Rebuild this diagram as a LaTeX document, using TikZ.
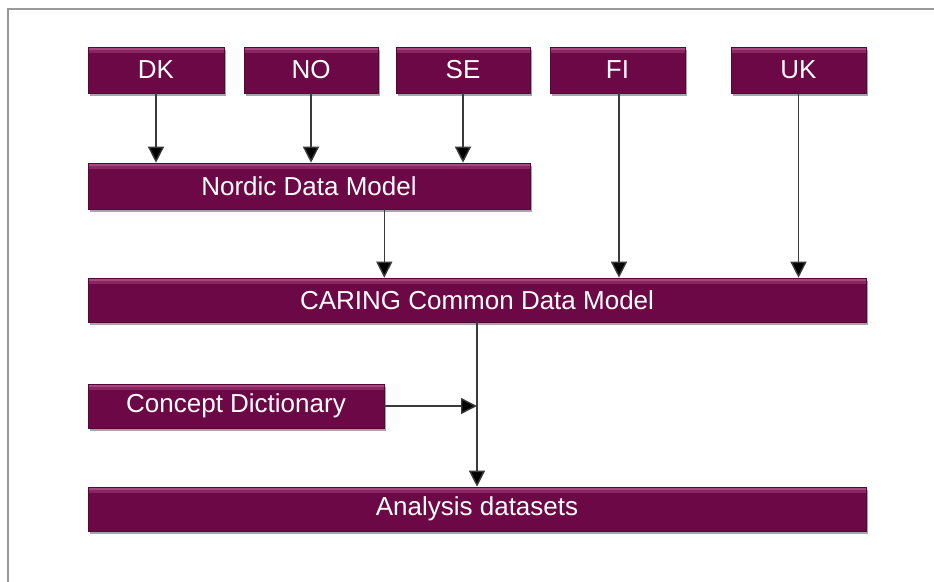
\documentclass[tikz,border=0pt]{standalone}
\usepackage{fontspec}
\setmainfont{Liberation Sans}
\usetikzlibrary{arrows.meta,shadows,calc}
\definecolor{boxfill}{HTML}{6C0846}
\definecolor{boxtop}{HTML}{A8467F}
\definecolor{framegray}{HTML}{999999}
\definecolor{linegray}{HTML}{3A3A3A}
\begin{document}
\begin{tikzpicture}[x=1pt,y=-1pt,
  box/.style={draw=boxfill!80!black, line width=0.6pt, fill=boxfill, text=white,
    minimum height=46pt, inner sep=0pt, font=\fontsize{26}{30}\selectfont,
    drop shadow={shadow xshift=2pt, shadow yshift=-2.5pt, fill=black, opacity=0.35},
    path picture={\fill[boxtop] (path picture bounding box.north west) rectangle ([yshift=-3pt]path picture bounding box.north east);
                  \fill[boxtop!50!boxfill] ([yshift=-3pt]path picture bounding box.north west) rectangle ([yshift=-6pt]path picture bounding box.north east);}},
  conn/.style={draw=linegray, line width=1.4pt, -{Triangle[length=16pt,width=16pt,fill=black]}}]
\useasboundingbox (0,0) rectangle (934,581);
\draw[framegray, line width=2.5pt] (8,590) -- (8,9) -- (945,9);

\node[box, minimum width=136pt] (dk) at (156,70) {DK};
\node[box, minimum width=134pt] (no) at (311,70) {NO};
\node[box, minimum width=134pt] (se) at (463,70) {SE};
\node[box, minimum width=135pt] (fi) at (617.5,70) {FI};
\node[box, minimum width=135pt] (uk) at (798.5,70) {UK};
\node[box, minimum width=442pt] (nordic) at (309,186) {Nordic Data Model};
\node[box, minimum width=778pt, minimum height=44pt] (caring) at (477,300) {CARING Common Data Model};
\node[box, minimum width=296pt, minimum height=44pt] (concept) at (236,406) {Concept Dictionary};
\node[box, minimum width=778pt, minimum height=44pt] (analysis) at (477,509) {Analysis datasets};

\draw[conn] (dk.south) -- (dk.south |- nordic.north);
\draw[conn] (no.south) -- (no.south |- nordic.north);
\draw[conn] (se.south) -- (se.south |- nordic.north);
\draw[conn] ([xshift=1.5pt]fi.south) -- ([xshift=1.5pt]fi.south |- caring.north);
\draw[conn] (uk.south) -- (uk.south |- caring.north);
\draw[conn] (nordic.south -| concept.east) -- (concept.east |- caring.north);
\draw[conn] (caring.south) -- (analysis.north);
\draw[conn] (concept.east) -- (concept.east -| caring.south);
\end{tikzpicture}
\end{document}
